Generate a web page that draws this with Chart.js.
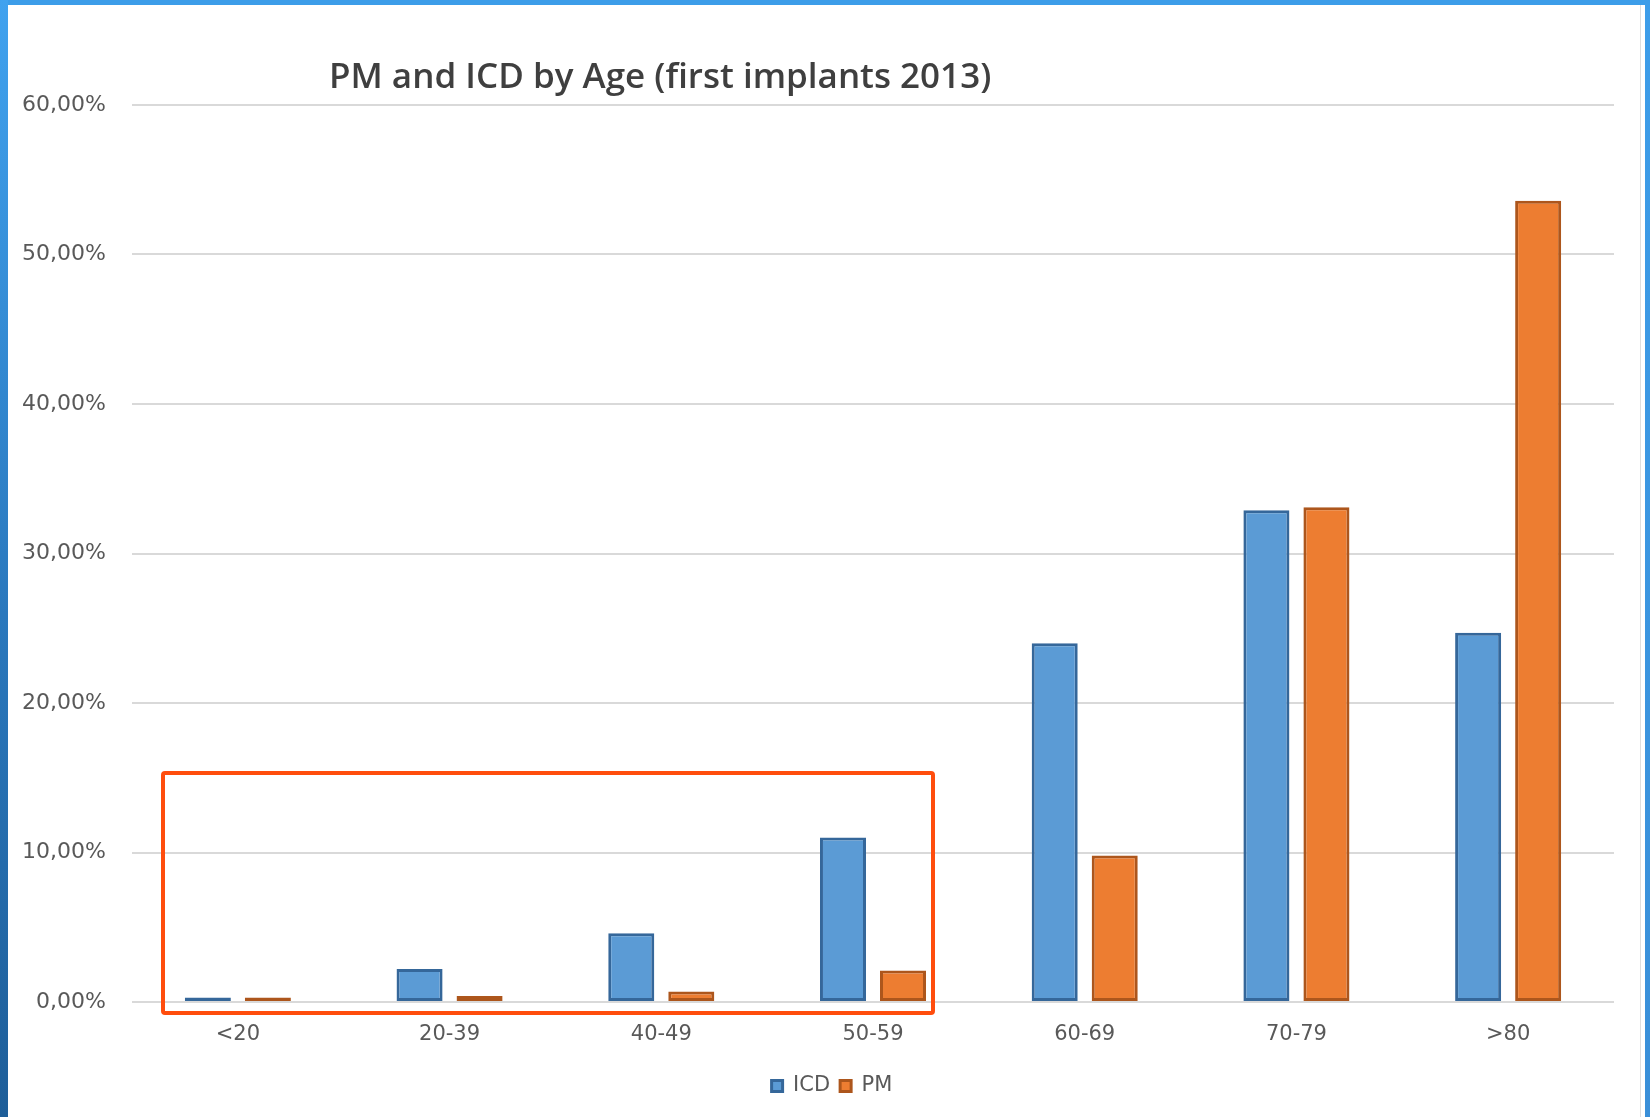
<!DOCTYPE html>
<html>
<head>
<meta charset="utf-8">
<script src="https://cdn.jsdelivr.net/npm/chart.js@4/dist/chart.umd.min.js"></script>
<style>
  html, body { margin: 0; padding: 0; background: #ffffff; }
  #wrap { position: relative; width: 1650px; height: 1117px; overflow: hidden; background: #ffffff; }
  #chart { position: absolute; left: 0; top: 0; }
  .edge { position: absolute; }
  #edgeTop { left: 0; top: 0; width: 1650px; height: 5px; background: #3c9de9; }
  #edgeLeft { left: 0; top: 0; width: 8px; height: 1117px; background: linear-gradient(#40a2ef, #2a78bd 55%, #1e5e99); }
  #edgeRight { left: 1645px; top: 0; width: 5px; height: 1117px; background: linear-gradient(#3d9de9, #3a8fd8); }
  #innerLine { left: 1640px; top: 5px; width: 1px; height: 1112px; background: #dedede; }
  #title { position: absolute; left: 329px; top: 51px; font-family: "Open Sans", sans-serif; font-weight: 600; font-size: 35px; color: #3f3f3f; white-space: nowrap; }
  #focus { position: absolute; left: 161px; top: 771px; width: 774px; height: 244px; box-sizing: border-box; border: 4px solid #ff4d0d; border-radius: 4px; }
</style>
</head>
<body>
<div id="wrap">
  <canvas id="chart" width="1650" height="1117"></canvas>
  <div class="edge" id="edgeTop"></div>
  <div class="edge" id="edgeLeft"></div>
  <div class="edge" id="edgeRight"></div>
  <div class="edge" id="innerLine"></div>
  <div id="title">PM and ICD by Age (first implants 2013)</div>
  <div id="focus"></div>
</div>
<script>
// Age groups and share of first implants (percent) per device type
const ageGroups = ['<20', '20-39', '40-49', '50-59', '60-69', '70-79', '>80'];
const icdShare = [0.3, 2.2, 4.6, 11.0, 24.0, 32.9, 24.7];
const pmShare  = [0.3, 0.4, 0.7, 2.1, 9.8, 33.1, 53.6];
const yTicks = [0, 10, 20, 30, 40, 50, 60];

const tickFont = { family: 'DejaVu Sans', size: 21 };
const yTickFont = { family: 'DejaVu Sans', size: 22 };
const textGray = '#595959';

function pctLabel(v) {
  return v.toFixed(2).replace('.', ',') + '%';
}

// Centre the legend under the plot area rather than under the whole canvas
const legendOffset = {
  id: 'legendOffset',
  afterLayout(chart) {
    if (chart.legend) chart.legend.left += 50;
  }
};

new Chart(document.getElementById('chart'), {
  type: 'bar',
  data: {
    labels: ageGroups,
    datasets: [
      {
        label: 'ICD',
        data: icdShare,
        backgroundColor: '#5b9bd5',
        borderColor: '#35679a',
        borderWidth: 3,
        borderSkipped: false
      },
      {
        label: 'PM',
        data: pmShare,
        backgroundColor: '#ed7d31',
        borderColor: '#ad561c',
        borderWidth: 3,
        borderSkipped: false
      }
    ]
  },
  plugins: [legendOffset],
  options: {
    responsive: false,
    animation: false,
    categoryPercentage: 0.567,
    barPercentage: 0.767,
    layout: { padding: { left: 0, top: 105, right: 36, bottom: 10.5 } },
    plugins: {
      title: { display: false },
      tooltip: { enabled: false },
      legend: {
        position: 'bottom',
        labels: {
          font: tickFont,
          color: textGray,
          boxWidth: 11,
          boxHeight: 11,
          padding: 10
        }
      }
    },
    scales: {
      x: {
        grid: { display: false, drawTicks: false },
        border: { display: false },
        ticks: { font: tickFont, color: textGray, padding: 20, maxRotation: 0 },
        afterFit: (scale) => { scale.height = 63.5; }
      },
      y: {
        min: 0,
        max: 60,
        afterBuildTicks: (scale) => { scale.ticks = yTicks.map(v => ({ value: v })); },
        grid: { color: '#d9d9d9', lineWidth: 2, drawTicks: false },
        border: { display: false },
        ticks: { font: yTickFont, color: textGray, padding: 26, callback: (v) => pctLabel(v) },
        afterFit: (scale) => { scale.width = 132; }
      }
    }
  }
});
</script>
</body>
</html>
